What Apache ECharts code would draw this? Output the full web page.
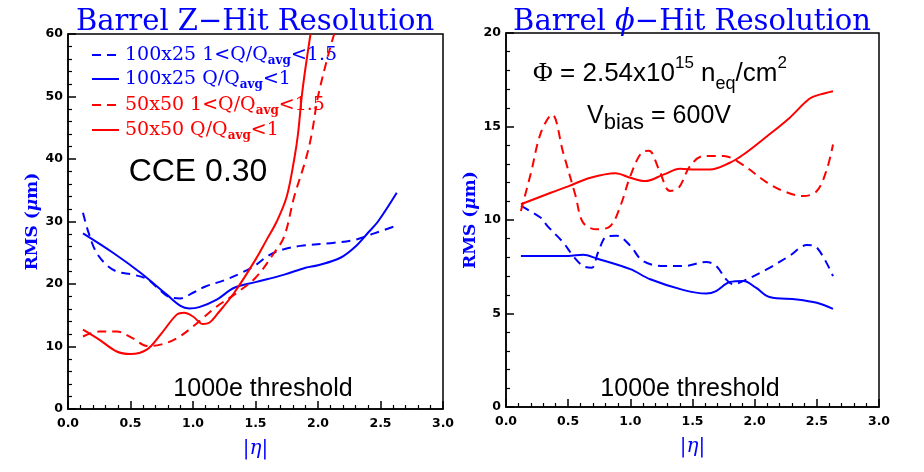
<!DOCTYPE html>
<html><head><meta charset="utf-8">
<script src="https://cdn.jsdelivr.net/npm/echarts@6/dist/echarts.min.js"></script>
<style>html,body{margin:0;padding:0;background:#fff}#c{width:924px;height:472px}</style>
</head><body><div id="c"></div>
<script>
// ---- Data (|eta|, RMS um) ----
const seriesNames = ['100x25 1<Q/Qavg<1.5','100x25 Q/Qavg<1','50x50 1<Q/Qavg<1.5','50x50 Q/Qavg<1'];
// Left: Barrel Z-hit resolution
const zBlueDash = [[0.12,31.4],[0.16,28.5],[0.22,25.3],[0.3,23.2],[0.39,22.0],[0.52,21.5],[0.63,20.8],[0.72,19.3],[0.8,18.0],[0.9,17.7],[1.0,18.6],[1.1,19.6],[1.25,20.6],[1.4,21.9],[1.5,23.0],[1.6,24.5],[1.7,25.4],[1.86,26.1],[2.13,26.6],[2.3,27.1],[2.45,28.1],[2.61,29.2]];
const zBlueSolid = [[0.12,28.1],[0.36,25.0],[0.58,21.8],[0.79,18.3],[0.9,16.5],[0.97,16.1],[1.05,16.3],[1.19,17.5],[1.33,19.4],[1.5,20.3],[1.73,21.5],[1.9,22.6],[2.0,23.0],[2.18,24.2],[2.3,26.0],[2.4,28.2],[2.48,30.0],[2.63,34.6]];
const zRedDash = [[0.12,11.6],[0.25,12.4],[0.39,12.4],[0.52,11.3],[0.63,10.1],[0.74,10.3],[0.87,11.3],[1.0,13.2],[1.19,16.4],[1.33,18.3],[1.5,21.0],[1.65,25.0],[1.73,27.6],[1.81,34.0],[1.9,39.8],[1.95,44.0],[2.0,50.0],[2.1,58.0],[2.13,60.0]];
const zRedSolid = [[0.12,12.7],[0.25,11.1],[0.39,9.2],[0.5,8.8],[0.63,9.5],[0.74,11.9],[0.87,15.1],[0.93,15.4],[1.0,14.8],[1.08,13.6],[1.13,13.8],[1.19,15.1],[1.33,18.6],[1.5,23.9],[1.59,27.1],[1.67,30.0],[1.75,34.0],[1.81,40.0],[1.84,44.0],[1.87,50.0],[1.9,54.6],[1.94,60.0]];
// Right: Barrel phi-hit resolution
const phiBlueDash = [[0.12,10.75],[0.28,10.12],[0.33,9.7],[0.46,8.8],[0.54,8.08],[0.62,7.54],[0.69,7.45],[0.74,8.26],[0.81,9.12],[0.89,9.16],[1.0,8.62],[1.1,7.81],[1.27,7.54],[1.43,7.54],[1.61,7.76],[1.69,7.54],[1.77,6.83],[1.83,6.56],[1.91,6.74],[2.1,7.37],[2.28,8.08],[2.42,8.66],[2.5,8.53],[2.63,7.0]];
const phiBlueSolid = [[0.12,8.08],[0.5,8.08],[0.62,8.14],[0.73,7.94],[1.0,7.37],[1.16,6.83],[1.43,6.25],[1.61,6.07],[1.69,6.2],[1.8,6.68],[1.91,6.74],[2.01,6.38],[2.12,5.88],[2.34,5.75],[2.5,5.57],[2.63,5.25]];
const phiRedDash = [[0.12,10.48],[0.2,12.5],[0.28,14.66],[0.37,15.64],[0.46,13.6],[0.56,11.28],[0.62,9.86],[0.73,9.5],[0.84,9.68],[0.92,10.75],[1.0,12.35],[1.09,13.6],[1.15,13.7],[1.23,12.7],[1.32,11.55],[1.39,11.73],[1.48,12.88],[1.59,13.42],[1.75,13.42],[1.88,13.06],[2.1,12.0],[2.23,11.55],[2.39,11.28],[2.5,11.55],[2.58,12.7],[2.63,14.04]];
const phiRedSolid = [[0.12,10.84],[0.36,11.46],[0.5,11.8],[0.68,12.26],[0.88,12.5],[1.0,12.26],[1.12,12.08],[1.27,12.44],[1.4,12.74],[1.53,12.7],[1.64,12.7],[1.8,13.06],[1.91,13.5],[2.1,14.48],[2.28,15.46],[2.44,16.48],[2.53,16.72],[2.63,16.89]];
// Axis settings
const xTicks = {min:0, max:3, interval:0.5};
const zTicks = {min:0, max:60, interval:10};
const phiTicks = {min:0, max:20, interval:5};

const BLUE = '#0000ff', RED = '#ff0000';
const DASH = [9,6];
const SERIF = 'DejaVu Serif';
const SANS = 'Liberation Sans';

function xAxis(gi){
  return {type:'value', gridIndex:gi, min:xTicks.min, max:xTicks.max, interval:xTicks.interval,
    axisLine:{show:true, onZero:false, lineStyle:{color:'#000', width:1.5}},
    axisTick:{show:true, inside:true, length:8, lineStyle:{color:'#000', width:1.5}},
    minorTick:{show:true, splitNumber:5, length:4, lineStyle:{color:'#000', width:1.2}},
    splitLine:{show:false},
    axisLabel:{show:true, color:'#000', fontFamily:'DejaVu Sans', fontWeight:'bold', fontSize:12.5, margin:8,
      formatter:v=>v.toFixed(1)},
    name:'{b||}{i|η}{b||}', nameLocation:'middle', nameGap:30,
    nameTextStyle:{color:BLUE, fontFamily:SERIF, fontSize:20,
      rich:{b:{color:BLUE, fontFamily:SERIF, fontSize:20}, i:{color:BLUE, fontFamily:SERIF, fontStyle:'italic', fontSize:20}}}
  };
}
function yAxis(gi, t){
  return {type:'value', gridIndex:gi, min:t.min, max:t.max, interval:t.interval,
    axisLine:{show:true, onZero:false, lineStyle:{color:'#000', width:1.5}},
    axisTick:{show:true, inside:true, length:8, lineStyle:{color:'#000', width:1.5}},
    minorTick:{show:true, splitNumber:5, length:4, lineStyle:{color:'#000', width:1.2}},
    splitLine:{show:false},
    axisLabel:{show:true, color:'#000', fontFamily:'DejaVu Sans', fontWeight:'bold', fontSize:12.5, margin:5},
    name:'{b|RMS (}{i|μ}{b|m)}', nameLocation:'middle', nameGap:27, nameRotate:90,
    nameTextStyle:{color:BLUE, fontFamily:SERIF, fontSize:17, fontWeight:'bold',
      rich:{b:{color:BLUE, fontFamily:SERIF, fontSize:17, fontWeight:'bold'}, i:{color:BLUE, fontFamily:SERIF, fontSize:17, fontWeight:'bold', fontStyle:'italic'}}}
  };
}
function line(name, data, gi, color, dashed){
  return {name, type:'line', xAxisIndex:gi, yAxisIndex:gi, data, smooth:0.35, symbol:'none', clip:true,
    lineStyle:{color, width:2, type: dashed ? DASH : 'solid'}, itemStyle:{color}, silent:true};
}
// legend drawn as decoration (key lines + rich text)
const legendColors = [BLUE, BLUE, RED, RED];
const legendDashed = [true, false, true, false];
const legendRowY = [55, 79, 105, 130];
const legendGraphics = [];
seriesNames.forEach((n,i)=>{
  const c = legendColors[i];
  legendGraphics.push({type:'line', shape:{x1:92, y1:legendRowY[i], x2:119, y2:legendRowY[i]},
    style:{stroke:c, lineWidth:2, lineDash: legendDashed[i] ? [9,6] : null}});
  legendGraphics.push({type:'text', x:125, y:legendRowY[i], style:{
    text: n.split('Qavg').map(p=>'{m|'+p+'}').join('{m|Q}{s|avg}'),
    verticalAlign:'middle', align:'left',
    rich:{m:{fill:c, fontFamily:SERIF, fontSize:19, lineHeight:24}, s:{fill:c, fontFamily:SERIF, fontSize:12, fontWeight:'bold', verticalAlign:'bottom', lineHeight:8}}}});
});

const option = {
  animation:false,
  backgroundColor:'#fff',
  grid:[
    {left:68, top:34, width:375, height:375, show:true, borderColor:'#000', borderWidth:1.5, backgroundColor:'transparent'},
    {left:506, top:33, width:373, height:374, show:true, borderColor:'#000', borderWidth:1.5, backgroundColor:'transparent'}
  ],
  xAxis:[xAxis(0), xAxis(1)],
  yAxis:[yAxis(0, zTicks), yAxis(1, phiTicks)],
  series:[
    line(seriesNames[0], zBlueDash, 0, BLUE, true),
    line(seriesNames[1], zBlueSolid, 0, BLUE, false),
    line(seriesNames[2], zRedDash, 0, RED, true),
    line(seriesNames[3], zRedSolid, 0, RED, false),
    line('phi '+seriesNames[0], phiBlueDash, 1, BLUE, true),
    line('phi '+seriesNames[1], phiBlueSolid, 1, BLUE, false),
    line('phi '+seriesNames[2], phiRedDash, 1, RED, true),
    line('phi '+seriesNames[3], phiRedSolid, 1, RED, false)
  ],
  graphic:[
    {type:'text', x:255, y:22, style:{text:'Barrel Z−Hit Resolution', fill:BLUE, font:'29px "DejaVu Serif"', align:'center', verticalAlign:'middle'}},
    {type:'text', x:692, y:22, style:{text:'{a|Barrel }{i|ϕ}{a|−Hit Resolution}', align:'center', verticalAlign:'middle',
      rich:{a:{fill:BLUE, fontFamily:SERIF, fontSize:29}, i:{fill:BLUE, fontFamily:SERIF, fontSize:29, fontStyle:'italic'}}}},
    {type:'text', x:198, y:172, style:{text:'CCE 0.30', fill:'#000', font:'32px "Liberation Sans"', align:'center', verticalAlign:'middle'}},
    {type:'text', x:263, y:389, style:{text:'1000e threshold', fill:'#000', font:'25px "Liberation Sans"', align:'center', verticalAlign:'middle'}},
    {type:'text', x:690, y:389, style:{text:'1000e threshold', fill:'#000', font:'25px "Liberation Sans"', align:'center', verticalAlign:'middle'}},
    {type:'text', x:660, y:74, style:{text:'{f|Φ}{m| = 2.54x10}{p|15}{m| n}{s|eq}{m|/cm}{p|2}', align:'center', verticalAlign:'middle',
      rich:{f:{fill:'#000', fontFamily:'Liberation Serif', fontSize:27, lineHeight:38},
            m:{fill:'#000', fontFamily:SANS, fontSize:26, lineHeight:38},
            p:{fill:'#000', fontFamily:SANS, fontSize:17, verticalAlign:'top', lineHeight:22},
            s:{fill:'#000', fontFamily:SANS, fontSize:18, verticalAlign:'bottom', lineHeight:12}}}},
    {type:'text', x:659, y:116, style:{text:'{m|V}{s|bias}{m| = 600V}', align:'center', verticalAlign:'middle',
      rich:{m:{fill:'#000', fontFamily:SANS, fontSize:25, lineHeight:36}, s:{fill:'#000', fontFamily:SANS, fontSize:22, verticalAlign:'bottom', lineHeight:6}}}}
  ].concat(legendGraphics)
};
const chart = echarts.init(document.getElementById('c'), null, {renderer:'canvas'});
chart.setOption(option);
</script></body></html>
